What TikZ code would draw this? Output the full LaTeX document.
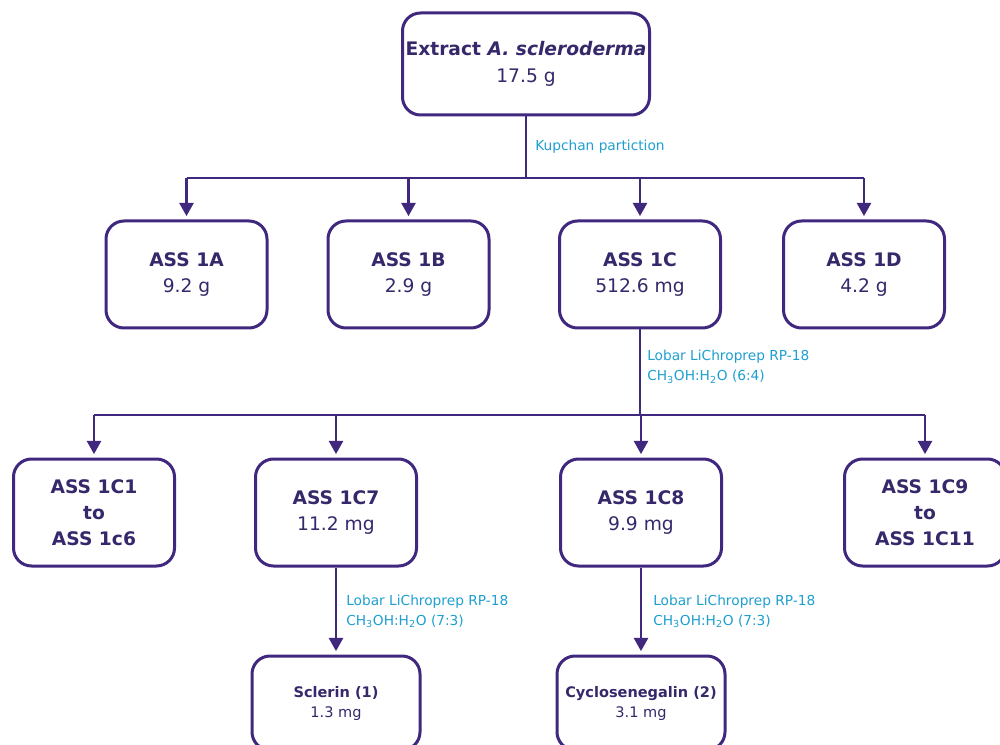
\documentclass[tikz,border=0pt]{standalone}
\usepackage{fontspec}
\setmainfont{DejaVu Sans}
\usetikzlibrary{arrows.meta}
\definecolor{linec}{HTML}{40287F}
\definecolor{textc}{HTML}{36286A}
\definecolor{labc}{HTML}{1E9FD0}
\tikzset{
  x=0.75pt, y=-0.75pt,
  box/.style={draw=linec, line width=2.25pt, rounded corners=13.5pt, fill=white,
    text=textc, align=center, inner sep=0pt,
    minimum width=120.75pt, minimum height=80.25pt,
    font=\fontsize{14}{19.5}\selectfont},
  topbox/.style={box, minimum width=185.25pt, minimum height=76.5pt,
    font=\fontsize{14}{20}\selectfont},
  endbox/.style={box, minimum width=126pt, minimum height=70.5pt,
    font=\fontsize{10.9}{15}\selectfont},
  conn/.style={draw=linec, line width=2.1pt},
  arr/.style={conn, -{Triangle[width=10.5pt,length=10pt]}, shorten >=2.5pt},
  lab/.style={text=labc, anchor=west, align=left, inner sep=0pt,
    font=\fontsize{10.3}{15}\selectfont}
}
\begin{document}
\begin{tikzpicture}
\useasboundingbox (0,0) rectangle (1000,745);
\clip (0,0) rectangle (1000,745);
% nodes
\node[topbox] (top) at (526,64) {\textbf{Extract \textit{A. scleroderma}}\\17.5 g};
\node[box] (a1) at (186.5,274.5) {\textbf{ASS 1A}\\9.2 g};
\node[box] (b1) at (408.5,274.5) {\textbf{ASS 1B}\\2.9 g};
\node[box] (c1) at (640,274.5) {\textbf{ASS 1C}\\512.6 mg};
\node[box] (d1) at (864,274.5) {\textbf{ASS 1D}\\4.2 g};
\node[box] (c16) at (94,512.5) {\textbf{ASS 1C1}\\\textbf{to}\\\textbf{ASS 1c6}};
\node[box] (c7) at (336,512.5) {\textbf{ASS 1C7}\\11.2 mg};
\node[box] (c8) at (641,512.5) {\textbf{ASS 1C8}\\9.9 mg};
\node[box] (c911) at (925,512.5) {\textbf{ASS 1C9}\\\textbf{to}\\\textbf{ASS 1C11}};
\node[endbox] (s1) at (336,703) {\textbf{Sclerin (1)}\\1.3 mg};
\node[endbox] (s2) at (641,703) {\textbf{Cyclosenegalin (2)}\\3.1 mg};
% bus coordinates
\coordinate (bus1) at (0,178);
\coordinate (bus2) at (0,415);
% first split
\draw[conn] (top.south) -- (top.south |- bus1);
\draw[conn] (a1.north |- bus1) -- (d1.north |- bus1);
\foreach \n in {a1,b1,c1,d1} \draw[arr] (\n.north |- bus1) -- (\n.north);
% second split
\draw[conn] (c1.south) -- (c1.south |- bus2);
\draw[conn] (c16.north |- bus2) -- (c911.north |- bus2);
\foreach \n in {c16,c7,c8,c911} \draw[arr] (\n.north |- bus2) -- (\n.north);
% final steps
\draw[arr] (c7.south) -- (s1.north);
\draw[arr] (c8.south) -- (s2.north);
% labels
\node[lab] (l1) at (535,147) {Kupchan partiction};
\node[lab] (l2) at (647,367) {Lobar LiChroprep RP-18\\CH\textsubscript{3}OH:H\textsubscript{2}O (6:4)};
\node[lab] (l3) at (346,611.5) {Lobar LiChroprep RP-18\\CH\textsubscript{3}OH:H\textsubscript{2}O (7:3)};
\node[lab] (l4) at (653,611.5) {Lobar LiChroprep RP-18\\CH\textsubscript{3}OH:H\textsubscript{2}O (7:3)};
\end{tikzpicture}
\end{document}
